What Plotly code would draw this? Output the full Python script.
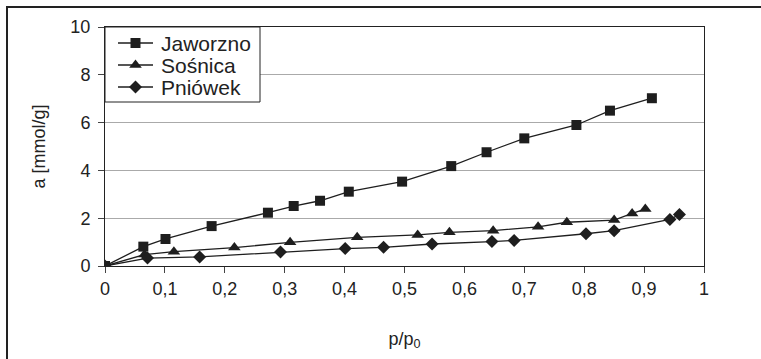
import plotly.graph_objects as go

names = ["Jaworzno", "Sośnica", "Pniówek"]
symbols = ["square", "triangle-up", "diamond"]

jaw_x = [0, 0.064, 0.101, 0.178, 0.272, 0.315, 0.359, 0.407, 0.496, 0.578, 0.637, 0.700, 0.787, 0.843, 0.913]
jaw_y = [0, 0.81, 1.13, 1.67, 2.23, 2.51, 2.73, 3.11, 3.53, 4.18, 4.76, 5.34, 5.90, 6.50, 7.02]

sos_x = [0, 0.066, 0.115, 0.216, 0.309, 0.421, 0.522, 0.575, 0.648, 0.723, 0.771, 0.850, 0.880, 0.902]
sos_y = [0, 0.48, 0.60, 0.77, 0.99, 1.20, 1.30, 1.41, 1.48, 1.64, 1.83, 1.92, 2.20, 2.38]

pni_x = [0, 0.071, 0.158, 0.293, 0.401, 0.465, 0.546, 0.646, 0.683, 0.803, 0.850, 0.943, 0.959]
pni_y = [0, 0.33, 0.38, 0.59, 0.73, 0.78, 0.92, 1.02, 1.07, 1.35, 1.48, 1.95, 2.15]

x_ticks = [0, 0.1, 0.2, 0.3, 0.4, 0.5, 0.6, 0.7, 0.8, 0.9, 1]
y_ticks = [0, 2, 4, 6, 8, 10]

C = "#1e1e1e"
sizes = [10, 11, 10]
fig = go.Figure()
for nm, xs, ys, sym, sz in zip(names, [jaw_x, sos_x, pni_x], [jaw_y, sos_y, pni_y], symbols, sizes):
    fig.add_trace(go.Scatter(x=xs, y=ys, name=nm, mode="lines+markers",
                             line=dict(color=C, width=1.3), showlegend=False,
                             marker=dict(symbol=sym, size=sz, color=C)))

L, R, T, B = 105, 704, 27, 266
def px(p):
    return (p - L) / (R - L)
def py(p):
    return (B - p) / (B - T)
def dx(p):
    return (p - L) / (R - L) * 1.0
def dy(p):
    return (B - p) / (B - T) * 10.0

# manual legend in pixel coordinates
leg_x0, leg_x1, leg_y0, leg_y1 = 105, 260, 27, 102
row_y = [43, 65, 87]
shapes = [
    dict(type="line", xref="paper", yref="paper", x0=px(6), x1=px(761), y0=py(7), y1=py(7),
         line=dict(color="#222", width=2)),
    dict(type="line", xref="paper", yref="paper", x0=px(7), x1=px(7), y0=py(7), y1=py(359),
         line=dict(color="#222", width=2)),
    dict(type="rect", xref="x", yref="y", x0=dx(leg_x0), x1=dx(leg_x1), y0=dy(leg_y0), y1=dy(leg_y1),
         line=dict(color="#222", width=1), fillcolor="white", layer="between"),
]
annotations = []
for nm, sym, sz, ry in zip(names, symbols, sizes, row_y):
    shapes.append(dict(type="line", xref="x", yref="y", x0=dx(118), x1=dx(153), y0=dy(ry), y1=dy(ry),
                       line=dict(color=C, width=1.3), layer="between"))
    fig.add_trace(go.Scatter(x=[135.5], y=[ry], xaxis="x2", yaxis="y2", mode="markers",
                             showlegend=False, hoverinfo="skip",
                             marker=dict(symbol=sym, size=sz, color=C)))
    annotations.append(dict(xref="x2", yref="y2", x=159, y=ry, text=nm, showarrow=False,
                            xanchor="left", yanchor="middle",
                            font=dict(size=21, color="#222")))

fig.update_layout(
    width=761, height=359,
    margin=dict(l=L, r=761 - R, t=T, b=359 - B),
    paper_bgcolor="white", plot_bgcolor="white",
    separators=", ",
    font=dict(family="Liberation Sans, Arial, sans-serif", size=18, color="#222"),
    showlegend=False,
    xaxis=dict(range=[0, 1], tickvals=x_ticks, ticks="outside", ticklen=6,
               tickcolor="#444", showgrid=False, showline=True, linecolor="#222",
               linewidth=1, zeroline=False, mirror=True,
               tickfont=dict(size=18),
               title=dict(text="p/p<sub>0</sub>", standoff=34, font=dict(size=18))),
    yaxis=dict(range=[0, 10], tickvals=y_ticks, ticks="outside", ticklen=6,
               tickcolor="#444", showgrid=True, gridcolor="#aaa", gridwidth=1,
               showline=True, linecolor="#222", linewidth=1, zeroline=False,
               mirror=True, tickfont=dict(size=18), ticklabelstandoff=4,
               title=dict(text="a [mmol/g]", standoff=20, font=dict(size=18))),
    xaxis2=dict(overlaying="x", range=[L, R], visible=False, fixedrange=True),
    yaxis2=dict(overlaying="y", range=[B, T], visible=False, fixedrange=True),
    shapes=shapes,
    annotations=annotations,
)

fig.write_html("out.html")
